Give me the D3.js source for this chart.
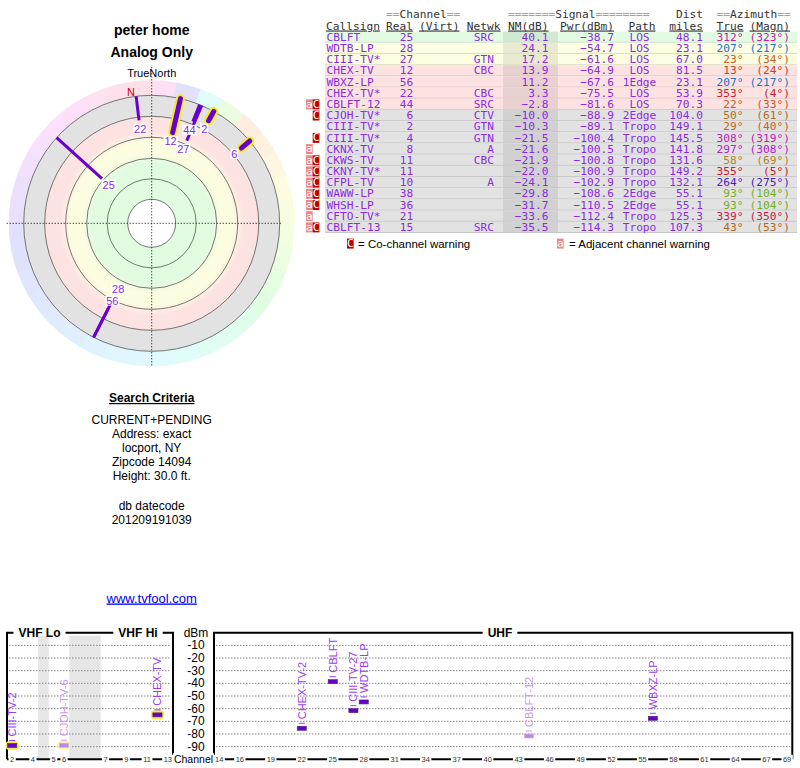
<!DOCTYPE html>
<html>
<head>
<meta charset="utf-8">
<script src="https://cdn.jsdelivr.net/npm/d3@7"></script>
<style>
  body { margin: 0; background: #fff; }
  svg { display: block; }
  .sans { font-family: "Liberation Sans", Arial, sans-serif; }
  .mono { font-family: "DejaVu Sans Mono", monospace; font-size: 11.2px; }
</style>
</head>
<body>
<script>
(function(window){
    'use strict'

    // station table
    var callsigns = ["CBLFT","WDTB-LP","CIII-TV*","CHEX-TV","WBXZ-LP","CHEX-TV*","CBLFT-12","CJOH-TV*","CIII-TV*",
                     "CIII-TV*","CKNX-TV","CKWS-TV","CKNY-TV*","CFPL-TV","WAWW-LP","WHSH-LP","CFTO-TV*","CBLFT-13"];
    var fullNames = ["CBLFT","WDTB-LP","CIII-TV-27","CHEX-TV","WBXZ-LP","CHEX-TV-2","CBLFT-12","CJOH-TV-6","CIII-TV-2",
                     "CIII-TV-4","CKNX-TV","CKWS-TV","CKNY-TV-11","CFPL-TV","WAWW-LP","WHSH-LP","CFTO-TV-21","CBLFT-13"];
    var realCh = [25, 28, 27, 12, 56, 22, 44, 6, 2, 4, 8, 11, 11, 10, 38, 36, 21, 15];
    var netwk = ["SRC","","GTN","CBC","","CBC","SRC","CTV","GTN","GTN","A","CBC","","A","","","","SRC"];
    var nmDb = [40.1, 24.1, 17.2, 13.9, 11.2, 3.3, -2.8, -10.0, -10.3, -21.5, -21.6, -21.9, -22.0, -24.1, -29.8, -31.7, -33.6, -35.5];
    var pwrDbm = [-38.7, -54.7, -61.6, -64.9, -67.6, -75.5, -81.6, -88.9, -89.1, -100.4, -100.5, -100.8, -100.9, -102.9, -108.6, -110.5, -112.4, -114.3];
    var paths = ["LOS","LOS","LOS","LOS","1Edge","LOS","LOS","2Edge","Tropo","Tropo","Tropo","Tropo","Tropo","Tropo","2Edge","2Edge","Tropo","Tropo"];
    var distMiles = [48.1, 23.1, 67.0, 81.5, 23.1, 53.9, 70.3, 104.0, 149.1, 145.5, 141.8, 131.6, 149.2, 132.1, 55.1, 55.1, 125.3, 107.3];
    var azTrue = [312, 207, 23, 13, 207, 353, 22, 50, 29, 308, 297, 58, 355, 264, 93, 93, 339, 43];
    var azMagn = [323, 217, 34, 24, 217, 4, 33, 61, 40, 319, 308, 69, 5, 275, 104, 104, 350, 53];
    var warnings = ["","","","","","","aC","C","","C","a","aC","aC","aC","aC","aC","a","aC"];

    var criteria = ["CURRENT+PENDING", "Address: exact", "locport, NY", "Zipcode 14094", "Height: 30.0 ft."];
    var dbLines = ["db datecode", "201209191039"];
    var magNorthAz = 351;

    var dbmTicks = [-10, -20, -30, -40, -50, -60, -70, -80, -90];
    var vhfSlots = ["2","3","4","gapA","5","6","gapB","gapC","gapD","7","8","9","10","11","12","13"];
    var vhfTickLabels = ["2","4","5","6","7","9","11","13"];
    var uhfTickLabels = [14,16,19,22,25,28,31,34,37,40,43,46,49,52,55,58,61,64,67,69];

    var PURPLE = "#6a00cc", TEXT = "#8a2be2", FADED = "#c79be8";

    var svg = d3.select("body").append("svg")
        .attr("width", 800).attr("height", 768);
    svg.append("rect").attr("width", 800).attr("height", 768).attr("fill", "#fff");

    var hue = d3.scaleLinear()
        .domain([0, 45, 93, 135, 180, 225, 270, 315, 360])
        .range([355, 25, 75, 140, 188, 215, 250, 300, 355]);
    var azHue = d3.scaleLinear()
        .domain([0, 23, 50, 58, 93, 207, 264, 297, 312, 339, 360])
        .range([0, 22, 33, 42, 85, 210, 255, 292, 312, 345, 360]);
    function azColor(a) { return d3.hsl(azHue(a) % 360, 0.72, a > 40 && a < 100 ? 0.4 : 0.45).formatHex(); }

    var stations = d3.range(callsigns.length).map(function(i) {
        return {i: i, call: callsigns[i], name: fullNames[i], ch: realCh[i], net: netwk[i], nm: nmDb[i],
                pwr: pwrDbm[i], path: paths[i], dist: distMiles[i], az: azTrue[i], mag: azMagn[i], warn: warnings[i]};
    });
    var shown = stations.filter(function(s) { return s.nm > -11; });

    // ---------- titles ----------
    var left = svg.append("g").attr("class", "sans").attr("text-anchor", "middle");
    left.append("text").attr("x", 151.7).attr("y", 35).attr("font-size", 14).attr("font-weight", "bold").text("peter home");
    left.append("text").attr("x", 151.7).attr("y", 56.5).attr("font-size", 14).attr("font-weight", "bold").text("Analog Only");

    // ---------- radar ----------
    var cx = 151.7, cy = 223.3;
    var rScale = d3.scaleLinear().domain([0, 40]).range([107, 67]);
    var rings = [24, 44.5, 65, 86, 107, 128];
    var rWheel = 143;
    var radar = svg.append("g").attr("transform", "translate(" + cx + "," + cy + ")");

    var wedge = d3.arc().innerRadius(128).outerRadius(rWheel);
    d3.range(0, 360, 10).forEach(function(a) {
        radar.append("path")
            .attr("d", wedge({startAngle: a * Math.PI / 180, endAngle: (a + 10.4) * Math.PI / 180}))
            .attr("fill", d3.hsl(hue(a + 5), 0.85, 0.935).formatHex());
    });

    var defs = svg.append("defs");
    var grad = defs.append("radialGradient").attr("id", "bands")
        .attr("cx", 0).attr("cy", 0).attr("r", 128).attr("gradientUnits", "userSpaceOnUse");
    [[0, "#e0fbe0"], [60, "#e0fbe0"], [70, "#fcfce0"], [82, "#fcfce0"], [92, "#fde2e2"], [107, "#fde2e2"],
     [107.01, "#e2e2e2"], [128, "#e2e2e2"]].forEach(function(s) {
        grad.append("stop").attr("offset", s[0] / 128).attr("stop-color", s[1]);
    });
    radar.append("circle").attr("r", 128).attr("fill", "url(#bands)");
    radar.append("circle").attr("r", rings[0]).attr("fill", "#fff");
    rings.forEach(function(r) {
        radar.append("circle").attr("r", r).attr("fill", "none").attr("stroke", "#555").attr("stroke-width", 0.8);
    });

    radar.append("line").attr("x1", -145).attr("x2", 130).attr("y1", 0).attr("y2", 0)
        .attr("stroke", "#000").attr("stroke-dasharray", "1,2");
    radar.append("line").attr("x1", 0).attr("x2", 0).attr("y1", -156).attr("y2", 143)
        .attr("stroke", "#000").attr("stroke-dasharray", "1,2");
    left.append("text").attr("x", cx).attr("y", 77).attr("font-size", 11).text("TrueNorth");

    function polar(az, r) {
        var t = az * Math.PI / 180;
        return [r * Math.sin(t), -r * Math.cos(t)];
    }

    var pN = polar(magNorthAz, 133);
    radar.append("text").attr("class", "sans").attr("x", pN[0]).attr("y", pN[1] + 4)
        .attr("text-anchor", "middle").attr("font-size", 11).attr("fill", "#d00000").text("N");

    var drawOrder = shown.slice().reverse();
    drawOrder.forEach(function(s) {
        var p0 = polar(s.az, 128), p1 = polar(s.az, rScale(s.nm));
        if (s.ch <= 13) {
            radar.append("line").attr("x1", p0[0]).attr("y1", p0[1]).attr("x2", p1[0]).attr("y2", p1[1])
                .attr("stroke", "#f2ec20").attr("stroke-width", 9).attr("stroke-linecap", "round");
            radar.append("line").attr("x1", p0[0]).attr("y1", p0[1]).attr("x2", p1[0]).attr("y2", p1[1])
                .attr("stroke", PURPLE).attr("stroke-width", 5).attr("stroke-linecap", "round");
        } else {
            radar.append("line").attr("x1", p0[0]).attr("y1", p0[1]).attr("x2", p1[0]).attr("y2", p1[1])
                .attr("stroke", PURPLE).attr("stroke-width", 3);
        }
    });
    shown.forEach(function(s) {
        var p = polar(s.az, rScale(s.nm) - 9);
        var t = radar.append("text").attr("class", "sans").attr("x", p[0]).attr("y", p[1] + 4)
            .attr("text-anchor", "middle").attr("font-size", 11).attr("fill", TEXT).text(s.ch);
        var b = t.node().getBBox();
        radar.insert("rect", function() { return t.node(); })
            .attr("x", b.x - 1).attr("y", b.y + 1).attr("width", b.width + 2).attr("height", b.height - 2)
            .attr("fill", "#fff");
    });

    // ---------- search criteria ----------
    left.append("text").attr("x", cx).attr("y", 402).attr("font-size", 12).attr("font-weight", "bold")
        .attr("text-decoration", "underline").text("Search Criteria");
    criteria.forEach(function(c, k) {
        left.append("text").attr("x", cx).attr("y", 423.5 + k * 14).attr("font-size", 12).text(c);
    });
    dbLines.forEach(function(c, k) {
        left.append("text").attr("x", cx).attr("y", 510 + k * 13.5).attr("font-size", 12).text(c);
    });
    left.append("text").attr("x", cx).attr("y", 602.5).attr("font-size", 13).attr("fill", "#0000ee")
        .attr("text-decoration", "underline").text("www.tvfool.com");

    // ---------- table ----------
    var tbl = svg.append("g").attr("class", "mono");
    var rowY = d3.scaleBand().domain(d3.range(stations.length)).range([31.6, 233]);
    var rowH = rowY.bandwidth();
    var rowFill = d3.scaleThreshold().domain([-5, 15, 30]).range(["#e2e2e2", "#fde2e2", "#fdfde2", "#e2fbe2"]);

    stations.forEach(function(s) {
        var y = rowY(s.i), f = rowFill(s.nm);
        tbl.append("rect").attr("x", 325).attr("y", y).attr("width", 472).attr("height", rowH).attr("fill", f);
        tbl.append("rect").attr("x", 503).attr("y", y).attr("width", 55).attr("height", rowH)
            .attr("fill", d3.color(f).darker(0.22).formatHex());
        tbl.append("line").attr("x1", 325).attr("x2", 797).attr("y1", y + rowH - 0.5).attr("y2", y + rowH - 0.5)
            .attr("stroke", d3.color(f).darker(0.35).formatHex()).attr("stroke-width", 1);
    });

    function hdr(x, y, parts, anchor) {
        var t = tbl.append("text").attr("x", x).attr("y", y).attr("text-anchor", anchor || "start")
            .attr("xml:space", "preserve");
        parts.forEach(function(p) { t.append("tspan").attr("fill", p[1]).text(p[0]); });
        return t;
    }
    var EQ = "#a0a0a0", HD = "#333";
    hdr(386, 18, [["==", EQ], ["Channel", HD], ["==", EQ]]);
    hdr(508, 18, [["=======", EQ], ["Signal", HD], ["========", EQ]]);
    hdr(703, 18, [["Dist", HD]], "end");
    hdr(716.5, 18, [["==", EQ], ["Azimuth", HD], ["==", EQ]]);

    [[326, "Callsign", "start"], [413, "Real", "end"], [419, "(Virt)", "start"], [500.5, "Netwk", "end"],
     [548.5, "NM(dB)", "end"], [614, "Pwr(dBm)", "end"], [642, "Path", "middle"], [703, "miles", "end"],
     [743.5, "True", "end"], [790, "(Magn)", "end"]].forEach(function(h) {
        tbl.append("text").attr("x", h[0]).attr("y", 29.5).attr("text-anchor", h[2]).attr("fill", HD)
            .attr("text-decoration", "underline").text(h[1]);
    });

    var f1 = d3.format(".1f");
    stations.forEach(function(s) {
        var y = rowY(s.i) + 9.2;
        var cells = [[326.5, s.call, "start"], [413.3, s.ch, "end"], [494, s.net, "end"],
                     [548.5, f1(s.nm), "end"], [614, f1(s.pwr), "end"],
                     [639.5, s.path, "middle"], [703, f1(s.dist), "end"]];
        cells.forEach(function(c) {
            tbl.append("text").attr("x", c[0]).attr("y", y).attr("text-anchor", c[2]).attr("fill", TEXT).text(c[1]);
        });
        var col = azColor(s.az);
        tbl.append("text").attr("x", 743.5).attr("y", y).attr("text-anchor", "end").attr("fill", col).text(s.az + "\u00b0");
        tbl.append("text").attr("x", 790).attr("y", y).attr("text-anchor", "end").attr("fill", col).text("(" + s.mag + "\u00b0)");

        if (s.warn.indexOf("a") >= 0) warnBox(306, rowY(s.i), "a");
        if (s.warn.indexOf("C") >= 0) warnBox(312.7, rowY(s.i), "C");
    });

    function warnBox(x, y, k) {
        var g = svg.append("g").attr("class", "mono");
        g.append("rect").attr("x", x).attr("y", y + 0.6).attr("width", 6.7).attr("height", rowH - 1.2)
            .attr("fill", k === "a" ? "#f08484" : "#c00000");
        g.append("text").attr("x", x + 3.35).attr("y", y + 9).attr("text-anchor", "middle")
            .attr("fill", "#fff").text(k);
    }

    warnBox(347, 238, "C");
    warnBox(557, 238, "a");
    svg.append("text").attr("class", "sans").attr("x", 358).attr("y", 248).attr("font-size", 11.5).text("= Co-channel warning");
    svg.append("text").attr("class", "sans").attr("x", 569).attr("y", 248).attr("font-size", 11.5).text("= Adjacent channel warning");

    // ---------- spectrum ----------
    var yDbm = d3.scaleLinear().domain([0, -100]).range([632.7, 759.3]);
    var xVhf = d3.scaleBand().domain(vhfSlots).range([7, 173]);
    var xUhf = d3.scaleBand().domain(d3.range(14, 70).map(String)).range([214, 792.3]);
    var spec = svg.append("g").attr("class", "sans");

    vhfSlots.forEach(function(k) {
        if (k.indexOf("gap") === 0)
            spec.append("rect").attr("x", xVhf(k)).attr("y", yDbm(0) + 3).attr("width", xVhf.bandwidth() + 0.3)
                .attr("height", yDbm(-100) - yDbm(0) - 3).attr("fill", "#e6e6e6");
    });

    [[7, 173], [214, 792.3]].forEach(function(r) {
        dbmTicks.forEach(function(v) {
            spec.append("line").attr("x1", r[0] + 2).attr("x2", r[1] - 2).attr("y1", yDbm(v)).attr("y2", yDbm(v))
                .attr("stroke", "#888").attr("stroke-dasharray", "1.5,1.5");
        });
        spec.append("path").attr("d", "M" + r[0] + "," + yDbm(-100) + "V" + yDbm(0) + "H" + r[1] + "V" + yDbm(-100))
            .attr("fill", "none").attr("stroke", "#000").attr("stroke-width", 2);
        spec.append("line").attr("x1", r[0]).attr("x2", r[1]).attr("y1", yDbm(-100)).attr("y2", yDbm(-100))
            .attr("stroke", "#000").attr("stroke-width", 2);
    });

    function title(x, txt) {
        var t = spec.append("text").attr("x", x).attr("y", yDbm(0) + 4.5).attr("text-anchor", "middle")
            .attr("font-size", 12).attr("font-weight", "bold").text(txt);
        var b = t.node().getBBox();
        spec.insert("rect", function() { return t.node(); }).attr("x", b.x - 5).attr("y", yDbm(0) - 3)
            .attr("width", b.width + 10).attr("height", 6).attr("fill", "#fff");
    }
    title(39.5, "VHF Lo");
    title(138, "VHF Hi");
    title(500, "UHF");

    spec.append("text").attr("x", 196).attr("y", yDbm(0) + 4).attr("text-anchor", "middle").attr("font-size", 12).text("dBm");
    dbmTicks.forEach(function(v) {
        spec.append("text").attr("x", 196).attr("y", yDbm(v) + 4).attr("text-anchor", "middle").attr("font-size", 12)
            .text(v);
    });

    function tickLabel(x, txt) {
        var t = spec.append("text").attr("x", x).attr("y", yDbm(-100) + 2.5).attr("text-anchor", "middle")
            .attr("font-size", 7.5).attr("fill", "#333").text(txt);
        var b = t.node().getBBox();
        spec.insert("rect", function() { return t.node(); }).attr("x", b.x - 1.5).attr("y", b.y)
            .attr("width", b.width + 3).attr("height", b.height).attr("fill", "#fff");
    }
    vhfTickLabels.forEach(function(c) { tickLabel(xVhf(c) + xVhf.bandwidth() / 2, c); });
    uhfTickLabels.forEach(function(c) { tickLabel(xUhf(String(c)) + xUhf.bandwidth() / 2, c); });
    var ch = spec.append("text").attr("x", 193.5).attr("y", yDbm(-100) + 4).attr("text-anchor", "middle")
        .attr("font-size", 10.5).text("Channel");
    var cb = ch.node().getBBox();
    spec.insert("rect", function() { return ch.node(); }).attr("x", cb.x - 1).attr("y", cb.y)
        .attr("width", cb.width + 2).attr("height", cb.height).attr("fill", "#fff");

    shown.forEach(function(s) {
        var sc = s.ch <= 13 ? xVhf : xUhf;
        var x0 = sc(String(s.ch)), w = sc.bandwidth(), y = yDbm(s.pwr);
        var faded = s.warn.indexOf("C") >= 0;
        if (s.ch <= 13) {
            spec.append("rect").attr("x", x0 - 1.5).attr("y", y - 4.5).attr("width", w + 3).attr("height", 9)
                .attr("rx", 4).attr("fill", faded ? "#f6f2b8" : "#f0ec40");
        }
        spec.append("rect").attr("x", x0 + 0.6).attr("y", y - 2).attr("width", w - 1.2).attr("height", 4)
            .attr("fill", faded ? "#b98ae6" : PURPLE)
            .attr("stroke", faded ? "#c8b0e0" : "#4a2080").attr("stroke-width", 0.6);
        var lx = x0 + w / 2 + 4, ly = y - 7;
        spec.append("line").attr("x1", lx - 7).attr("x2", lx - 1).attr("y1", ly + 2).attr("y2", ly + 2)
            .attr("stroke", faded ? FADED : "#9a3cf0").attr("stroke-width", 1);
        spec.append("text").attr("transform", "translate(" + lx + "," + (ly - 2) + ") rotate(-90)")
            .attr("font-size", 11).attr("fill", faded ? FADED : "#9a3cf0").text(s.name);
    });

})(window);
</script>
</body>
</html>
